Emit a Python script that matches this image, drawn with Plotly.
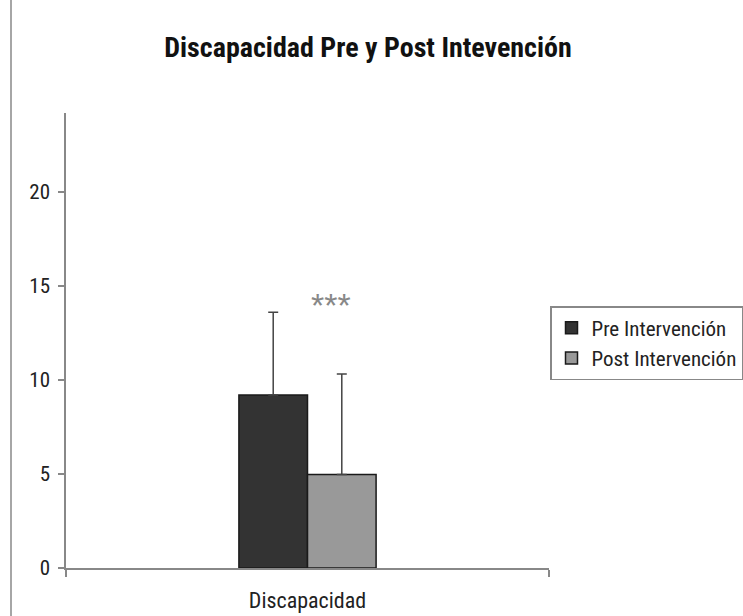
import plotly.graph_objects as go

categories = ["Discapacidad"]
series_names = ["Pre Intervención", "Post Intervención"]
means = [9.2, 4.97]
errors_up = [4.4, 5.35]
colors = ["#333333", "#999999"]
y_ticks = [0, 5, 10, 15, 20]
title_text = "Discapacidad Pre y Post Intevención"
significance = "***"

fig = go.Figure()
for name, m, e, c in zip(series_names, means, errors_up, colors):
    fig.add_trace(go.Bar(
        x=categories, y=[m], name=name,
        marker=dict(color=c, line=dict(color="#1a1a1a", width=1.5)),
        error_y=dict(type="data", array=[e], arrayminus=[0], symmetric=False,
                     color="#444444", thickness=1.5, width=5),
    ))

font_main = "Roboto Condensed, Liberation Sans, Arial"

fig.update_layout(
    width=743, height=616,
    margin=dict(l=66, r=194, t=113, b=48),
    paper_bgcolor="white", plot_bgcolor="white",
    barmode="group", bargap=0.716, bargroupgap=0,
    font=dict(family=font_main, size=21, color="#222222"),
    title=dict(text="<b>" + title_text + "</b>", x=368 / 743, xref="container",
               y=1 - 47 / 616, yref="container", yanchor="middle", xanchor="center",
               font=dict(family=font_main, size=28, color="#111111")),
    legend=dict(x=550 / 743, y=1 - 306 / 616, xref="container", yref="container",
                xanchor="left", yanchor="top",
                bordercolor="#888888", borderwidth=1.5, itemwidth=30,
                font=dict(family=font_main, size=21, color="#222222"),
                tracegroupgap=2),
    showlegend=True,
)
fig.update_yaxes(range=[0, 24.2], tickvals=y_ticks, showgrid=False, zeroline=False,
                 showline=True, linecolor="#888888", linewidth=1.5, automargin=False,
                 ticks="outside", ticklen=6, tickcolor="#888888", tickwidth=1.5,
                 ticklabelstandoff=4)
fig.update_xaxes(showgrid=False, showline=True, linecolor="#888888", linewidth=1.5,
                 automargin=False, tickfont=dict(size=22),
                 ticks="outside", tickson="boundaries", ticklen=7,
                 tickcolor="#888888", tickwidth=1.5, ticklabelstandoff=12)

fig.add_annotation(x=(331 - 66) / 483, xref="paper", y=14.0, yref="y", text=significance,
                   showarrow=False, yanchor="middle",
                   font=dict(family="Liberation Sans, Arial", size=34, color="#888888"))
fig.add_shape(type="line", xref="paper", yref="paper",
              x0=(11 - 66) / 483, x1=(11 - 66) / 483, y0=-48 / 455, y1=1 + 113 / 455,
              line=dict(color="#888888", width=1.5))

fig.write_html("out.html", config={"displayModeBar": False},
               post_script="document.body.style.margin='0';document.body.style.overflow='hidden';")
